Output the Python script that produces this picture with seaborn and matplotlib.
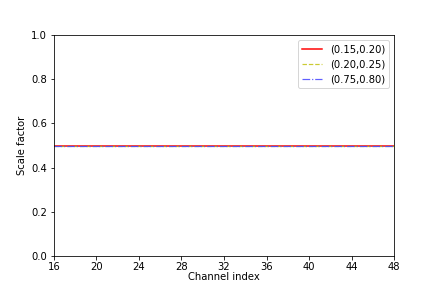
import matplotlib
matplotlib.use('Agg')
import matplotlib.pyplot as plt
import pandas as pd
import seaborn as sns

channels = list(range(16, 49))
scale_015_020 = [0.5, 0.5, 0.5, 0.5, 0.5, 0.5, 0.5, 0.5, 0.5, 0.5, 0.5,
                 0.5, 0.5, 0.5, 0.5, 0.5, 0.5, 0.5, 0.5, 0.5, 0.5, 0.5,
                 0.5, 0.5, 0.5, 0.5, 0.5, 0.5, 0.5, 0.5, 0.5, 0.5, 0.5]
scale_020_025 = [0.5, 0.5, 0.5, 0.5, 0.5, 0.5, 0.5, 0.5, 0.5, 0.5, 0.5,
                 0.5, 0.5, 0.5, 0.5, 0.5, 0.5, 0.5, 0.5, 0.5, 0.5, 0.5,
                 0.5, 0.5, 0.5, 0.5, 0.5, 0.5, 0.5, 0.5, 0.5, 0.5, 0.5]
scale_075_080 = [0.5, 0.5, 0.5, 0.5, 0.5, 0.5, 0.5, 0.5, 0.5, 0.5, 0.5,
                 0.5, 0.5, 0.5, 0.5, 0.5, 0.5, 0.5, 0.5, 0.5, 0.5, 0.5,
                 0.5, 0.5, 0.5, 0.5, 0.5, 0.5, 0.5, 0.5, 0.5, 0.5, 0.5]
labels = ['(0.15,0.20)', '(0.20,0.25)', '(0.75,0.80)']

df = pd.DataFrame({
    'channel': channels * 3,
    'scale': scale_015_020 + scale_020_025 + scale_075_080,
    'range': [labels[0]] * len(channels) + [labels[1]] * len(channels) + [labels[2]] * len(channels),
})

fig, ax = plt.subplots(figsize=(439 / 72, 292 / 72), dpi=72)
fig.subplots_adjust(left=0.123, right=0.8975, bottom=0.123, top=0.88)
# (color, linestyle, linewidth, alpha)
styles = [('r', '-', 1.5, 1.0), ('y', '--', 1.2, 0.8), ('#4d4dff', '-.', 1.2, 0.9)]
for label, (color, ls, lw, alpha) in zip(labels, styles):
    sns.lineplot(data=df[df['range'] == label], x='channel', y='scale', color=color,
                 linestyle=ls, linewidth=lw, alpha=alpha, label=label, ax=ax)

ax.set_xlim(16, 48)
ax.set_ylim(0, 1.0)
ax.set_xticks(range(16, 49, 4))
ax.tick_params(axis='x', pad=2.5)
ax.set_xlabel('Channel index', labelpad=0)
ax.set_ylabel('Scale factor')
ax.legend(loc='upper right')
plt.savefig('out.png', dpi=72)
